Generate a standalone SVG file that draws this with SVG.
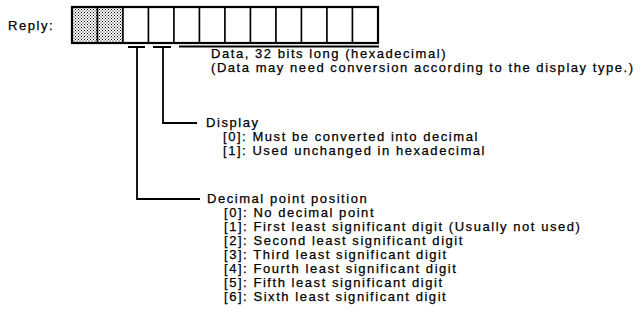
<svg xmlns="http://www.w3.org/2000/svg" width="644" height="324" viewBox="0 0 644 324">
  <defs>
    <pattern id="stipple" width="3" height="3" patternUnits="userSpaceOnUse">
      <rect width="3" height="3" fill="#ffffff"/>
      <rect x="0" y="0" width="1" height="1" fill="#000"/>
      <rect x="1.5" y="1.5" width="1" height="1" fill="#000"/>
    </pattern>
    <style>
      text { font-family: "Liberation Sans", Arial, sans-serif; font-size: 13px; letter-spacing: 1.55px; fill: #000; stroke: #000; stroke-width: 0.25; }
      .cell { fill: #fff; stroke: #000; stroke-width: 1.5; }
      .shade { fill: url(#stipple); stroke: #000; stroke-width: 1.5; }
      .frame { fill: none; stroke: #000; stroke-width: 2.2; }
      .conn { fill: none; stroke: #000; stroke-width: 1.8; }
    </style>
  </defs>
  <rect width="644" height="324" fill="#fff"/>

  <g id="reply-label">
    <text x="8" y="30">Reply:</text>
  </g>

  <g id="reply-frame">
    <rect class="shade" x="72" y="7" width="25.5" height="36"/>
    <rect class="shade" x="97.5" y="7" width="25.5" height="36"/>
    <rect class="cell" x="123" y="7" width="25.5" height="36"/>
    <rect class="cell" x="148.5" y="7" width="25.5" height="36"/>
    <rect class="cell" x="174" y="7" width="25.5" height="36"/>
    <rect class="cell" x="199.5" y="7" width="25.5" height="36"/>
    <rect class="cell" x="225" y="7" width="25.5" height="36"/>
    <rect class="cell" x="250.5" y="7" width="25.5" height="36"/>
    <rect class="cell" x="276" y="7" width="25.5" height="36"/>
    <rect class="cell" x="301.5" y="7" width="25.5" height="36"/>
    <rect class="cell" x="327" y="7" width="25.5" height="36"/>
    <rect class="cell" x="352.5" y="7" width="25.5" height="36"/>
    <rect class="frame" x="72" y="7" width="306" height="36"/>
  </g>

  <g id="connectors">
    <path class="conn" d="M179 46.5 H379"/>
    <path class="conn" d="M153 47 H171 M163 47 V123 H197"/>
    <path class="conn" d="M128 47 H145 M137 47 V199 H200"/>
  </g>

  <g id="data-label">
    <text x="211" y="58">Data, 32 bits long (hexadecimal)</text>
    <text x="211" y="72">(Data may need conversion according to the display type.)</text>
  </g>

  <g id="display-label">
    <text x="206" y="127">Display</text>
    <text x="223" y="141">[0]: Must be converted into decimal</text>
    <text x="223" y="155">[1]: Used unchanged in hexadecimal</text>
  </g>

  <g id="decimal-label">
    <text x="207" y="203">Decimal point position</text>
    <text x="224" y="217">[0]: No decimal point</text>
    <text x="224" y="231">[1]: First least significant digit (Usually not used)</text>
    <text x="224" y="245">[2]: Second least significant digit</text>
    <text x="224" y="259">[3]: Third least significant digit</text>
    <text x="224" y="273">[4]: Fourth least significant digit</text>
    <text x="224" y="287">[5]: Fifth least significant digit</text>
    <text x="224" y="301">[6]: Sixth least significant digit</text>
  </g>
</svg>
